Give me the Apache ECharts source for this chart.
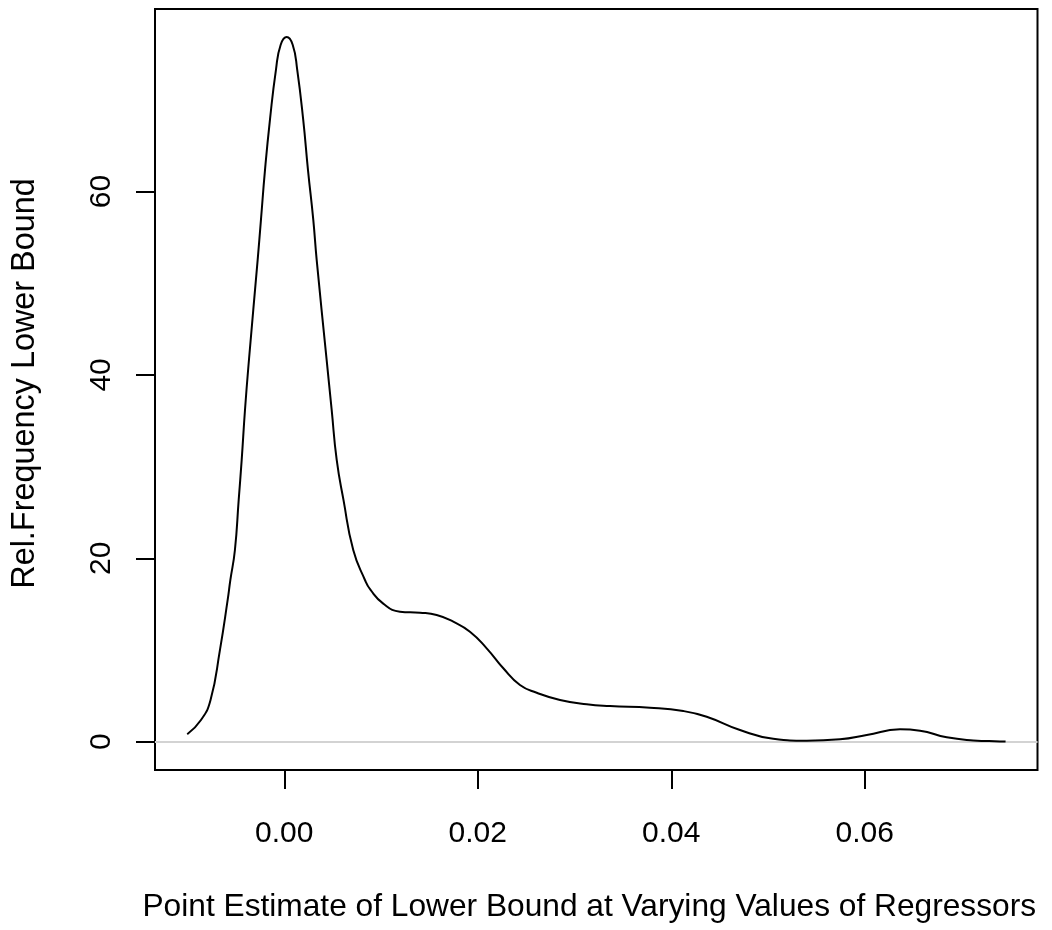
<!DOCTYPE html>
<html>
<head>
<meta charset="utf-8">
<title>Density of lower bound estimates</title>
<script src="https://cdn.jsdelivr.net/npm/echarts@6/dist/echarts.min.js"></script>
<style>
  html, body { margin: 0; padding: 0; background: #fff; }
  #chart { width: 1052px; height: 930px; }
</style>
</head>
<body>
<div id="chart"></div>
<script>
// density curve (x = point estimate, y = rel. frequency)
const xVals = [
  -0.01003, -0.00861, -0.00762, -0.00665, -0.00585, -0.00557, -0.00510, -0.00471,
  -0.00440, -0.00406, -0.00365, -0.00275, -0.00241, -0.00199, -0.00148, -0.00086,
  -0.00037, 0.00025, 0.00087, 0.00134, 0.00196, 0.00245, 0.00300, 0.00335,
  0.00438, 0.00490, 0.00542, 0.00612, 0.00713, 0.00834, 0.00892,
  0.01023, 0.01196, 0.01403, 0.01575, 0.01747, 0.01919, 0.02092, 0.02264,
  0.02436, 0.02609, 0.02850, 0.03126, 0.03366, 0.03780, 0.04124, 0.04366,
  0.04710, 0.05054, 0.05400, 0.05744, 0.06020, 0.06364, 0.06571, 0.06847,
  0.07121, 0.07397, 0.07455
];
const yVals = [
  0.81, 2.37, 4.55, 10.0, 15.46, 17.64, 20.91, 26.37,
  30.73, 36.18, 41.63, 52.54, 56.9, 62.36, 67.81, 73.27,
  76.0, 76.84, 76.0, 73.27, 67.81, 62.36, 56.9, 52.54,
  41.63, 36.18, 30.73, 26.37, 20.91, 17.64, 16.55,
  15.06, 14.18, 14.07, 13.82, 13.09, 12.0, 10.19, 8.01,
  6.19, 5.35, 4.55, 4.08, 3.89, 3.71, 3.35, 2.73,
  1.28, 0.33, 0.11, 0.26, 0.73, 1.35, 1.2, 0.48,
  0.15, 0.04, 0.02
];
const xTicks = [0, 0.02, 0.04, 0.06];
const yTicks = [0, 20, 40, 60];

const font = "'Liberation Sans', Arial, Helvetica, sans-serif";

const chart = echarts.init(document.getElementById("chart"));

const curve = xVals.map((x, i) => [x, yVals[i]]);

chart.setOption({
  animation: false,
  backgroundColor: "#ffffff",
  grid: {
    left: 155,
    top: 9,
    width: 882.5,
    height: 761,
    show: true,
    borderColor: "#000000",
    borderWidth: 2,
    backgroundColor: "transparent",
  },
  xAxis: {
    type: "value",
    min: -0.01336,
    max: 0.07785,
    name: "Point Estimate of Lower Bound at Varying Values of Regressors",
    nameLocation: "middle",
    nameGap: 121,
    nameTextStyle: { fontFamily: font, fontSize: 31.7, color: "#000", padding: [0, 14, 0, 0] },
    splitLine: { show: false },
    axisLine: { show: false, onZero: false },
    axisTick: {
      show: true,
      inside: false,
      length: 19,
      customValues: xTicks,
      lineStyle: { color: "#000", width: 2 },
    },
    axisLabel: {
      customValues: xTicks,
      margin: 49,
      fontFamily: font,
      fontSize: 30,
      color: "#000",
      formatter: (v) => v.toFixed(2),
    },
  },
  yAxis: {
    type: "value",
    min: -3.08,
    max: 79.9,
    name: "Rel.Frequency Lower Bound",
    nameLocation: "middle",
    nameRotate: 90,
    nameGap: 114,
    nameTextStyle: { fontFamily: font, fontSize: 32.4, color: "#000", padding: [0, 0, 0, 12] },
    splitLine: { show: false },
    axisLine: { show: false, onZero: false },
    axisTick: {
      show: true,
      inside: false,
      length: 19,
      customValues: yTicks,
      lineStyle: { color: "#000", width: 2 },
    },
    axisLabel: {
      customValues: yTicks,
      rotate: 90,
      margin: 38,
      fontFamily: font,
      fontSize: 30,
      color: "#000",
    },
  },
  series: [
    {
      type: "line",
      data: curve,
      showSymbol: false,
      smooth: 0.5,
      lineStyle: { color: "#000", width: 2 },
      z: 3,
      markLine: {
        silent: true,
        symbol: ["none", "none"],
        label: { show: false },
        lineStyle: { color: "#d3d3d3", width: 2, type: "solid" },
        data: [{ yAxis: 0 }],
        z: 1,
      },
    },
  ],
});
</script>
</body>
</html>
